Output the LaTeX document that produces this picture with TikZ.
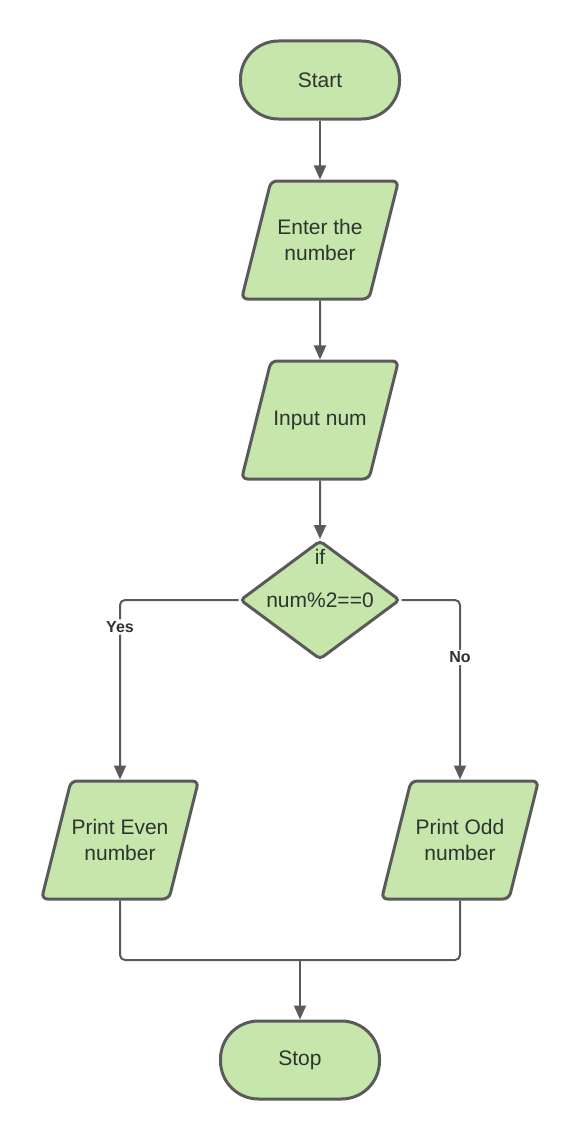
\documentclass[tikz,border=0pt]{standalone}
\usepackage{fontspec}
\setmainfont{Liberation Sans}
\usetikzlibrary{shapes.geometric,arrows.meta}

\definecolor{boxgreen}{RGB}{199,230,172}
\definecolor{linegray}{RGB}{90,90,90}
\definecolor{textgray}{RGB}{45,52,45}

\tikzset{
  boxfont/.style={text=textgray,font=\fontsize{21}{26}\selectfont},
  terminal/.style={boxfont,draw=linegray,fill=boxgreen,line width=3pt,rounded corners=38pt,minimum width=159pt,minimum height=78pt},
  iobox/.style={boxfont,draw=linegray,fill=boxgreen,line width=3pt,trapezium,trapezium left angle=76,trapezium right angle=104,inner sep=0pt,rounded corners=6pt,
    execute at begin node={\begin{minipage}[c][118pt][c]{98pt}\centering},
    execute at end node={\end{minipage}}},
  decision/.style={boxfont,draw=linegray,fill=boxgreen,line width=3pt,diamond,aspect=1.35,inner sep=0pt,minimum width=160pt,minimum height=119pt,rounded corners=4pt},
  plain/.style={boxfont,inner sep=1pt},
  answer/.style={text=textgray,font=\bfseries\fontsize{16}{18}\selectfont,fill=white,inner sep=2pt},
  flowline/.style={draw=linegray,line width=2pt,rounded corners=5pt},
  arrowline/.style={flowline,-{Triangle[length=14pt,width=12pt]}}
}

\begin{document}
\begin{tikzpicture}[x=1pt,y=-1pt]
\useasboundingbox (0,0) rectangle (580,1140);

% steps
\node[terminal] (start) at (320,80) {Start};
\node[iobox] (enter) at (320,240) {Enter the\\number};
\node[iobox] (input) at (320,420) {Input num};
\node[decision] (check) at (320,600) {num\%2==0};
\node[plain] (iftext) at (320,557) {if};

% branches
\node[iobox] (even) at (120,840) {Print Even\\number};
\node[iobox] (odd) at (460,840) {Print Odd\\number};

% end
\node[terminal] (stop) at (300,1060) {Stop};
\coordinate (join) at (300,960);

\draw[arrowline] (start) -- (enter);
\draw[arrowline] (enter) -- (input);
\draw[arrowline] (input) -- (check);
\draw[arrowline] (check.west) -| node[answer,pos=0.575] {Yes} (even.north);
\draw[arrowline] (check.east) -| node[answer,pos=0.66] {No} (odd.north);
\draw[flowline] (even.south) |- (join) -| (odd.south);
\draw[arrowline] (join) -- (stop);

\end{tikzpicture}
\end{document}
